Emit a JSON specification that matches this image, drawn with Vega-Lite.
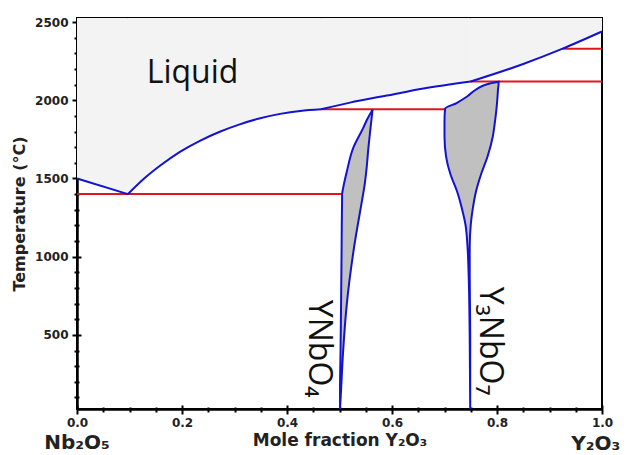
{
  "$schema": "https://vega.github.io/schema/vega-lite/v6.json",
  "width": 525,
  "height": 391,
  "autosize": {"type": "none"},
  "padding": {"left": 77, "top": 18, "right": 29, "bottom": 46},
  "background": "white",
  "config": {
    "view": {"stroke": "black", "strokeWidth": 2},
    "axis": {"grid": false, "zindex": 1, "ticks": true}
  },
  "resolve": {"axis": {"x": "independent", "y": "independent"}},
  "layer": [
    {
      "data": {"values": [
        {"seg": "A", "x": 0, "T": 1500}, {"seg": "A", "x": 0.097, "T": 1400},
        {"seg": "B", "x": 0.097, "T": 1400}, {"seg": "B", "x": 0.1295, "T": 1504}, {"seg": "B", "x": 0.158, "T": 1581},
        {"seg": "B", "x": 0.196, "T": 1670}, {"seg": "B", "x": 0.234, "T": 1741}, {"seg": "B", "x": 0.272, "T": 1799},
        {"seg": "B", "x": 0.31, "T": 1846}, {"seg": "B", "x": 0.349, "T": 1885}, {"seg": "B", "x": 0.387, "T": 1913},
        {"seg": "B", "x": 0.425, "T": 1932}, {"seg": "B", "x": 0.465, "T": 1942},
        {"seg": "C", "x": 0.465, "T": 1942}, {"seg": "C", "x": 0.52, "T": 1985}, {"seg": "C", "x": 0.59, "T": 2030},
        {"seg": "C", "x": 0.66, "T": 2075}, {"seg": "C", "x": 0.75, "T": 2120},
        {"seg": "D", "x": 0.75, "T": 2120}, {"seg": "D", "x": 0.85, "T": 2232}, {"seg": "D", "x": 0.925, "T": 2330},
        {"seg": "D", "x": 1.0, "T": 2440}
      ]},
      "mark": {"type": "area", "interpolate": "monotone", "color": "#f3f3f3"},
      "encoding": {
        "x": {
          "field": "x", "type": "quantitative",
          "scale": {"domain": [0, 1], "nice": false, "zero": false},
          "axis": {
            "orient": "bottom",
            "title": "Mole fraction Y₂O₃",
            "values": [0, 0.2, 0.4, 0.6, 0.8, 1.0],
            "format": ".1f",
            "tickSize": 5, "tickColor": "black", "tickWidth": 2,
            "domainColor": "black", "domainWidth": 2.5,
            "labelFont": "DejaVu Sans", "labelFontWeight": "bold", "labelFontSize": 12, "labelColor": "#222",
            "labelPadding": 3, "labelFlush": false, "labelOverlap": false,
            "titleFont": "DejaVu Sans", "titleFontSize": 17, "titleFontWeight": "bold", "titleColor": "#222",
            "titlePadding": 4
          }
        },
        "y": {
          "field": "T", "type": "quantitative",
          "scale": {"domain": [26, 2526], "nice": false, "zero": false},
          "axis": {
            "orient": "left",
            "title": "Temperature (°C)",
            "values": [500, 1000, 1500, 2000, 2500],
            "format": "d",
            "tickSize": 5, "tickColor": "black", "tickWidth": 2,
            "domainColor": "black", "domainWidth": 2.5,
            "labelFont": "DejaVu Sans", "labelFontWeight": "bold", "labelFontSize": 12, "labelColor": "#222",
            "labelPadding": 4, "labelOverlap": false,
            "titleFont": "DejaVu Sans", "titleFontSize": 16, "titleFontWeight": "bold", "titleColor": "#222",
            "titlePadding": 7
          }
        },
        "y2": {"datum": 2526},
        "detail": {"field": "seg"}
      }
    },
    {
      "data": {"values": [
        {"x1": 0, "x2": 0.505, "T": 1400},
        {"x1": 0.465, "x2": 0.701, "T": 1942},
        {"x1": 0.749, "x2": 1.0, "T": 2120},
        {"x1": 0.925, "x2": 1.0, "T": 2330}
      ]},
      "mark": {"type": "rule", "color": "#e2141c", "strokeWidth": 2},
      "encoding": {
        "x": {
          "field": "x1", "type": "quantitative",
          "axis": {
            "orient": "bottom", "title": null, "labels": false, "domain": false,
            "values": [0.05, 0.1, 0.15, 0.25, 0.3, 0.35, 0.45, 0.5, 0.55, 0.65, 0.7, 0.75, 0.85, 0.9, 0.95],
            "tickSize": 3, "tickColor": "black", "tickWidth": 2
          }
        },
        "x2": {"field": "x2"},
        "y": {
          "field": "T", "type": "quantitative",
          "axis": {
            "orient": "left", "title": null, "labels": false, "domain": false,
            "values": [100, 200, 300, 400, 600, 700, 800, 900, 1100, 1200, 1300, 1400, 1600, 1700, 1800, 1900, 2100, 2200, 2300, 2400],
            "tickSize": 3, "tickColor": "black", "tickWidth": 2
          }
        }
      }
    },
    {
      "data": {"values": [
        {"phase": "YNbO4", "T": 26, "xl": 0.501, "xr": 0.501},
        {"phase": "YNbO4", "T": 150, "xl": 0.501, "xr": 0.503},
        {"phase": "YNbO4", "T": 400, "xl": 0.502, "xr": 0.507},
        {"phase": "YNbO4", "T": 700, "xl": 0.503, "xr": 0.514},
        {"phase": "YNbO4", "T": 1044, "xl": 0.504, "xr": 0.527},
        {"phase": "YNbO4", "T": 1400, "xl": 0.505, "xr": 0.545},
        {"phase": "YNbO4", "T": 1440, "xl": 0.507, "xr": 0.547},
        {"phase": "YNbO4", "T": 1545, "xl": 0.514, "xr": 0.551},
        {"phase": "YNbO4", "T": 1694, "xl": 0.526, "xr": 0.555},
        {"phase": "YNbO4", "T": 1822, "xl": 0.545, "xr": 0.559},
        {"phase": "YNbO4", "T": 1880, "xl": 0.553, "xr": 0.561},
        {"phase": "YNbO4", "T": 1940, "xl": 0.563, "xr": 0.563},
        {"phase": "Y3NbO7", "T": 26, "xl": 0.749, "xr": 0.749},
        {"phase": "Y3NbO7", "T": 500, "xl": 0.748, "xr": 0.749},
        {"phase": "Y3NbO7", "T": 884, "xl": 0.746, "xr": 0.748},
        {"phase": "Y3NbO7", "T": 1055, "xl": 0.744, "xr": 0.748},
        {"phase": "Y3NbO7", "T": 1204, "xl": 0.740, "xr": 0.750},
        {"phase": "Y3NbO7", "T": 1310, "xl": 0.733, "xr": 0.754},
        {"phase": "Y3NbO7", "T": 1417, "xl": 0.724, "xr": 0.760},
        {"phase": "Y3NbO7", "T": 1530, "xl": 0.711, "xr": 0.770},
        {"phase": "Y3NbO7", "T": 1640, "xl": 0.703, "xr": 0.782},
        {"phase": "Y3NbO7", "T": 1768, "xl": 0.700, "xr": 0.792},
        {"phase": "Y3NbO7", "T": 1860, "xl": 0.700, "xr": 0.796},
        {"phase": "Y3NbO7", "T": 1945, "xl": 0.701, "xr": 0.799},
        {"phase": "Y3NbO7", "T": 1982, "xl": 0.723, "xr": 0.800},
        {"phase": "Y3NbO7", "T": 2024, "xl": 0.743, "xr": 0.801},
        {"phase": "Y3NbO7", "T": 2073, "xl": 0.762, "xr": 0.802},
        {"phase": "Y3NbO7", "T": 2103, "xl": 0.781, "xr": 0.803},
        {"phase": "Y3NbO7", "T": 2118, "xl": 0.803, "xr": 0.803}
      ]},
      "mark": {"type": "area", "orient": "horizontal", "interpolate": "monotone", "fill": "#c0c0c0", "stroke": "#1212d0", "strokeWidth": 2},
      "encoding": {
        "y": {
          "field": "T", "type": "quantitative",
          "axis": {
            "orient": "left", "title": null, "labels": false, "domain": false,
            "values": [500, 1000, 1500, 2000, 2500],
            "tickSize": -4, "tickColor": "black", "tickWidth": 2
          }
        },
        "x": {
          "field": "xl", "type": "quantitative",
          "axis": {
            "orient": "bottom", "title": null, "labels": false, "domain": false,
            "values": [0, 0.2, 0.4, 0.6, 0.8, 1.0],
            "tickSize": -4, "tickColor": "black", "tickWidth": 2
          }
        },
        "x2": {"field": "xr"},
        "detail": {"field": "phase"}
      }
    },
    {
      "data": {"values": [
        {"seg": "A", "x": 0, "T": 1500}, {"seg": "A", "x": 0.097, "T": 1400},
        {"seg": "B", "x": 0.097, "T": 1400}, {"seg": "B", "x": 0.1295, "T": 1504}, {"seg": "B", "x": 0.158, "T": 1581},
        {"seg": "B", "x": 0.196, "T": 1670}, {"seg": "B", "x": 0.234, "T": 1741}, {"seg": "B", "x": 0.272, "T": 1799},
        {"seg": "B", "x": 0.31, "T": 1846}, {"seg": "B", "x": 0.349, "T": 1885}, {"seg": "B", "x": 0.387, "T": 1913},
        {"seg": "B", "x": 0.425, "T": 1932}, {"seg": "B", "x": 0.465, "T": 1942},
        {"seg": "C", "x": 0.465, "T": 1942}, {"seg": "C", "x": 0.52, "T": 1985}, {"seg": "C", "x": 0.59, "T": 2030},
        {"seg": "C", "x": 0.66, "T": 2075}, {"seg": "C", "x": 0.75, "T": 2120},
        {"seg": "D", "x": 0.75, "T": 2120}, {"seg": "D", "x": 0.85, "T": 2232}, {"seg": "D", "x": 0.925, "T": 2330},
        {"seg": "D", "x": 1.0, "T": 2440}
      ]},
      "mark": {"type": "line", "interpolate": "monotone", "color": "#1212d0", "strokeWidth": 2},
      "encoding": {
        "x": {
          "field": "x", "type": "quantitative",
          "axis": {
            "orient": "bottom", "title": null, "labels": false, "domain": false,
            "values": [0.05, 0.1, 0.15, 0.25, 0.3, 0.35, 0.45, 0.5, 0.55, 0.65, 0.7, 0.75, 0.85, 0.9, 0.95],
            "tickSize": -2, "tickColor": "black", "tickWidth": 2
          }
        },
        "y": {
          "field": "T", "type": "quantitative",
          "axis": {
            "orient": "left", "title": null, "labels": false, "domain": false,
            "values": [100, 200, 300, 400, 600, 700, 800, 900, 1100, 1200, 1300, 1400, 1600, 1700, 1800, 1900, 2100, 2200, 2300, 2400],
            "tickSize": -2, "tickColor": "black", "tickWidth": 2
          }
        },
        "detail": {"field": "seg"}
      }
    },
    {
      "data": {"values": [{"label": "Liquid", "x": 0.22, "T": 2112}]},
      "mark": {"type": "text", "font": "Open Sans", "fontSize": 32, "color": "#111", "align": "center", "baseline": "alphabetic"},
      "encoding": {
        "x": {"field": "x", "type": "quantitative", "axis": null},
        "y": {"field": "T", "type": "quantitative", "axis": null},
        "text": {"field": "label"}
      }
    },
    {
      "data": {"values": [
        {"label": "YNbO₄", "x": 0.442, "T": 724},
        {"label": "Y₃NbO₇", "x": 0.768, "T": 807}
      ]},
      "mark": {"type": "text", "font": "Open Sans", "fontSize": 32, "color": "#111", "angle": 90, "align": "left", "baseline": "alphabetic"},
      "encoding": {
        "x": {"field": "x", "type": "quantitative", "axis": null},
        "y": {"field": "T", "type": "quantitative", "axis": null},
        "text": {"field": "label"}
      }
    },
    {
      "data": {"values": [
        {"label": "Nb₂O₅", "x": 0, "T": -228},
        {"label": "Y₂O₃", "x": 0.988, "T": -234}
      ]},
      "mark": {"type": "text", "font": "DejaVu Sans", "fontWeight": "bold", "fontSize": 20, "color": "#222", "align": "center", "baseline": "alphabetic"},
      "encoding": {
        "x": {"field": "x", "type": "quantitative", "axis": null},
        "y": {"field": "T", "type": "quantitative", "axis": null},
        "text": {"field": "label"}
      }
    }
  ]
}
